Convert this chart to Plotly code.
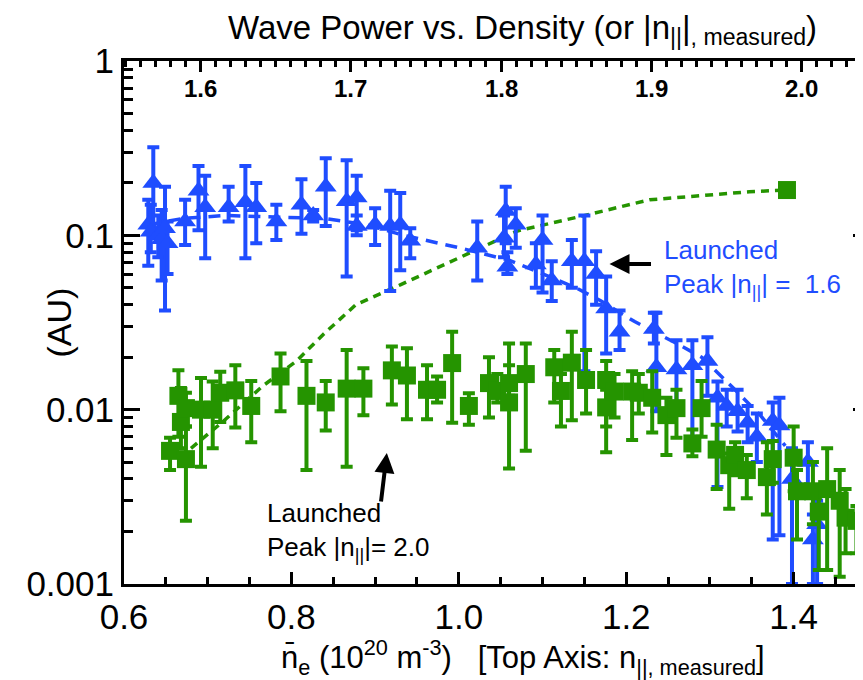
import plotly.graph_objects as go

# ---- Blue (launched peak |n||| = 1.6) data: triangles ----
blue_x = [0.629, 0.632, 0.635, 0.641, 0.645, 0.649, 0.652, 0.673, 0.689, 0.697,
          0.725, 0.745, 0.758, 0.782, 0.812, 0.826, 0.841, 0.866, 0.878, 0.878,
          0.900, 0.918, 0.930, 0.942, 1.022, 1.054, 1.056, 1.058, 1.068, 1.092,
          1.100, 1.111, 1.135, 1.150, 1.164, 1.176, 1.192, 1.233, 1.236, 1.260,
          1.279, 1.297, 1.309, 1.320, 1.333, 1.345, 1.356, 1.375, 1.383, 1.398,
          1.417, 1.423, 1.428]
blue_y = [0.115, 0.105, 0.200, 0.100, 0.095, 0.110, 0.090, 0.120, 0.180, 0.145,
          0.145, 0.155, 0.145, 0.120, 0.150, 0.130, 0.190, 0.157, 0.165, 0.113,
          0.115, 0.113, 0.115, 0.093, 0.085, 0.097, 0.138, 0.066, 0.115, 0.068,
          0.094, 0.055, 0.071, 0.071, 0.060, 0.038, 0.028, 0.029, 0.0175, 0.017,
          0.018, 0.019, 0.0117, 0.0105, 0.0098, 0.0084, 0.0070, 0.0086, 0.0081, 0.0040,
          0.0050, 0.0018, 0.0022]
blue_hi = [0.160, 0.150, 0.320, 0.130, 0.140, 0.190, 0.120, 0.160, 0.250, 0.220,
           0.190, 0.250, 0.200, 0.150, 0.210, 0.140, 0.277, 0.270, 0.220, 0.130,
           0.143, 0.180, 0.175, 0.110, 0.120, 0.130, 0.190, 0.080, 0.143, 0.090,
           0.130, 0.071, 0.094, 0.130, 0.081, 0.058, 0.037, 0.036, 0.036, 0.025,
           0.025, 0.026, 0.0145, 0.013, 0.013, 0.0105, 0.0095, 0.011, 0.0117, 0.006,
           0.0065, 0.0025, 0.003]
blue_lo = [0.067, 0.080, 0.110, 0.075, 0.055, 0.037, 0.060, 0.088, 0.107, 0.074,
           0.120, 0.074, 0.090, 0.094, 0.102, 0.120, 0.113, 0.058, 0.107, 0.100,
           0.088, 0.048, 0.063, 0.074, 0.055, 0.075, 0.090, 0.060, 0.085, 0.050,
           0.047, 0.042, 0.050, 0.0166, 0.040, 0.021, 0.022, 0.024, 0.0098, 0.011,
           0.006, 0.012, 0.0036, 0.008, 0.0075, 0.0065, 0.005, 0.0018, 0.0019, 0.001,
           0.0035, 0.001, 0.001]

# Blue trend (dashed)
blue_line_x = [0.63, 0.67, 0.72, 0.78, 0.84, 0.89, 0.934, 1.00, 1.03, 1.06, 1.09,
               1.14, 1.17, 1.21, 1.26, 1.29, 1.33, 1.36, 1.39]
blue_line_y = [0.115, 0.125, 0.130, 0.128, 0.125, 0.115, 0.100, 0.085, 0.078, 0.072,
               0.063, 0.050, 0.042, 0.032, 0.024, 0.020, 0.013, 0.0093, 0.0062]

# ---- Green (launched peak |n||| = 2.0) data: squares ----
green_x = [0.655, 0.665, 0.668, 0.674, 0.674, 0.692, 0.706, 0.715, 0.733, 0.752,
           0.787, 0.818, 0.841, 0.866, 0.886, 0.920, 0.938, 0.962, 0.974, 0.992,
           1.012, 1.036, 1.046, 1.060, 1.060, 1.080, 1.114, 1.122, 1.135, 1.152,
           1.176, 1.176, 1.186, 1.207, 1.215, 1.231, 1.248, 1.260, 1.279, 1.290,
           1.308, 1.323, 1.330, 1.344, 1.368, 1.375, 1.400, 1.404, 1.423, 1.430,
           1.440, 1.455, 1.462, 1.475, 1.487]
green_y = [0.0058, 0.0120, 0.0085, 0.0052, 0.0102, 0.0100, 0.0100, 0.0125, 0.0129, 0.0105,
           0.0155, 0.0120, 0.0110, 0.0132, 0.0132, 0.0168, 0.0157, 0.0130, 0.0130, 0.0185,
           0.0105, 0.0142, 0.0128, 0.0110, 0.0142, 0.0160, 0.0175, 0.0128, 0.0186, 0.0148,
           0.0148, 0.0103, 0.0127, 0.0127, 0.0125, 0.0117, 0.0093, 0.0102, 0.0064, 0.0102,
           0.0059, 0.0048, 0.0055, 0.0045, 0.0041, 0.0052, 0.0053, 0.0034, 0.0034, 0.0026,
           0.0035, 0.0030, 0.0024, 0.0023, 0.0018]
green_hi = [0.0069, 0.0168, 0.0133, 0.0080, 0.0125, 0.0152, 0.0145, 0.0165, 0.0180, 0.0146,
            0.0210, 0.0190, 0.0146, 0.0220, 0.0173, 0.0230, 0.0225, 0.0180, 0.0155, 0.0280,
            0.0124, 0.0200, 0.0160, 0.0240, 0.0180, 0.0240, 0.0220, 0.0160, 0.0280, 0.0220,
            0.0190, 0.0130, 0.0160, 0.0166, 0.0160, 0.0166, 0.0117, 0.0130, 0.0077, 0.0146,
            0.0082, 0.0056, 0.0065, 0.0055, 0.0065, 0.0066, 0.0080, 0.0045, 0.0050, 0.0033,
            0.0060, 0.0045, 0.0035, 0.0028, 0.0025]
green_lo = [0.0045, 0.0070, 0.0060, 0.0023, 0.0080, 0.0047, 0.0060, 0.0085, 0.0079, 0.0065,
            0.0098, 0.0045, 0.0076, 0.0047, 0.0093, 0.0107, 0.0088, 0.0088, 0.0110, 0.0084,
            0.0082, 0.0090, 0.0110, 0.0046, 0.0120, 0.0058, 0.0110, 0.0080, 0.0087, 0.0095,
            0.0057, 0.0080, 0.0090, 0.0067, 0.0095, 0.0074, 0.0055, 0.0069, 0.0054, 0.0070,
            0.0035, 0.0027, 0.0042, 0.0031, 0.0025, 0.0038, 0.0034, 0.0018, 0.0022, 0.0012,
            0.0012, 0.0011, 0.0015, 0.0015, 0.0011]

# Green trend (dashed), ends with a square
green_line_x = [0.68, 0.695, 0.719, 0.766, 0.806, 0.838, 0.877, 0.93, 0.98, 1.07,
                1.147, 1.228, 1.347, 1.392]
green_line_y = [0.0060, 0.0069, 0.0086, 0.0137, 0.019, 0.027, 0.040, 0.052, 0.067, 0.106,
                0.129, 0.160, 0.178, 0.182]

top_ticks = [1.6, 1.7, 1.8, 1.9, 2.0]
top_ticktext = ["1.6", "1.7", "1.8", "1.9", "2.0"]

# minor tick positions (axis furniture, drawn by overlay axes)
bottom_minor = [round(0.6 + 0.05 * i, 3) for i in range(18) if i % 4 != 0]
top_minor = [round(1.55 + 0.01 * i, 3) for i in range(50) if (i + 5) % 10 != 0]
y_minor = [m * 10.0 ** e for e in (-3, -2, -1) for m in range(2, 10)]

X_RANGE = [0.6, 1.49]
TOP_RANGE = [1.549, 2.045]
Y_RANGE = [-3.0005, 0.0005]

BLUE = "#1f4dff"
GREEN = "#259400"
FONT = "Liberation Sans, Arial, Helvetica, sans-serif"

def err(y, hi, lo):
    return [h - v for v, h in zip(y, hi)], [v - l for v, l in zip(y, lo)]

fig = go.Figure()

fig.add_trace(go.Scatter(x=blue_line_x, y=blue_line_y, mode="lines",
                         line=dict(color=BLUE, width=3.5, dash="12px,8px"),
                         hoverinfo="skip", showlegend=False))
fig.add_trace(go.Scatter(x=green_line_x, y=green_line_y, mode="lines",
                         line=dict(color=GREEN, width=3.5, dash="8px,6px"),
                         hoverinfo="skip", showlegend=False))
fig.add_trace(go.Scatter(x=[green_line_x[-1]], y=[green_line_y[-1]], mode="markers",
                         marker=dict(symbol="square", size=18, color=GREEN),
                         showlegend=False))

bp, bm = err(blue_y, blue_hi, blue_lo)
fig.add_trace(go.Scatter(x=blue_x, y=blue_y, mode="markers",
                         marker=dict(symbol="triangle-up", size=19, color=BLUE),
                         error_y=dict(type="data", array=bp, arrayminus=bm,
                                      color=BLUE, thickness=4, width=6),
                         showlegend=False))
gp, gm = err(green_y, green_hi, green_lo)
fig.add_trace(go.Scatter(x=green_x, y=green_y, mode="markers",
                         marker=dict(symbol="square", size=18, color=GREEN),
                         error_y=dict(type="data", array=gp, arrayminus=gm,
                                      color=GREEN, thickness=4, width=6),
                         showlegend=False))
# fully transparent helper traces that attach the extra axes (nothing visible)
helper = dict(mode="markers", marker=dict(opacity=0, size=1), showlegend=False, hoverinfo="skip")
fig.add_trace(go.Scatter(x=top_ticks, y=blue_y[:len(top_ticks)], xaxis="x2", yaxis="y", **helper))
fig.add_trace(go.Scatter(x=bottom_minor, y=green_y[:len(bottom_minor)], xaxis="x3", yaxis="y2", **helper))
fig.add_trace(go.Scatter(x=top_minor[:10], y=green_y[:10], xaxis="x4", yaxis="y2", **helper))

tick_common = dict(tickcolor="black", showgrid=False, zeroline=False, automargin=False)

fig.update_layout(
    width=863, height=680,
    margin=dict(l=116, r=2, t=53, b=104, autoexpand=False),
    paper_bgcolor="white", plot_bgcolor="white",
    font=dict(family=FONT, color="black"),
    xaxis=dict(range=X_RANGE, tickmode="linear", tick0=0.6, dtick=0.2, tickformat=".1f",
               ticks="inside", ticklen=12, tickwidth=2.5,
               showline=True, linewidth=3, linecolor="black", mirror=False,
               tickfont=dict(size=35, color="black"), **tick_common),
    xaxis2=dict(overlaying="x", side="top", anchor="y", range=TOP_RANGE,
                tickmode="linear", tick0=1.6, dtick=0.1, showticklabels=False,
                ticks="inside", ticklen=11, tickwidth=2.5,
                showline=True, linewidth=3, linecolor="black", **tick_common),
    xaxis3=dict(overlaying="x", side="bottom", anchor="y2", range=X_RANGE,
                tickmode="array", tickvals=bottom_minor, showticklabels=False,
                ticks="inside", ticklen=7, tickwidth=2.5, showline=False, **tick_common),
    xaxis4=dict(overlaying="x", side="top", anchor="y2", range=TOP_RANGE,
                tickmode="array", tickvals=top_minor, showticklabels=False,
                ticks="inside", ticklen=6, tickwidth=2.5, showline=False, **tick_common),
    yaxis=dict(type="log", range=Y_RANGE, tickmode="linear", tick0=0, dtick=1,
               tickformat="~g",
               ticks="inside", ticklen=16, tickwidth=2.5,
               showline=True, linewidth=3, linecolor="black", mirror="ticks",
               tickfont=dict(size=35, color="black"), **tick_common),
    yaxis2=dict(type="log", overlaying="y", side="left", anchor="x3", range=Y_RANGE,
                tickmode="array", tickvals=y_minor, showticklabels=False,
                ticks="inside", ticklen=9, tickwidth=2.5, showline=False, mirror="ticks",
                **tick_common),
    title=dict(text="Wave Power vs. Density (or |n<sub>||</sub>|<sub>, measured</sub>)",
               x=0.535, xref="paper", xanchor="center", y=1 - 19 / 680, yanchor="middle",
               font=dict(size=33, family=FONT, color="black")),
)

# top-axis tick labels, drawn just inside the frame
for v, t in zip(top_ticks, top_ticktext):
    fig.add_annotation(text=t, x=v, xref="x2", y=0.9465, yref="paper",
                       xanchor="center", yanchor="middle", showarrow=False,
                       font=dict(size=24, family=FONT, color="black", weight="bold"))

fig.add_annotation(text="(AU)", xref="paper", yref="paper", x=-0.0885, y=0.5,
                   xanchor="center", yanchor="middle",
                   textangle=-90, showarrow=False, font=dict(size=34, family=FONT, color="black"))
fig.add_annotation(text="n\u0304<sub>e</sub> (10<sup>20</sup> m<sup>-3</sup>)&nbsp;&nbsp;&nbsp;[Top Axis: n<sub>||, measured</sub>]",
                   xref="paper", yref="paper", x=0.535, y=-0.141, yanchor="middle",
                   showarrow=False, font=dict(size=31, family=FONT, color="black"))
fig.add_annotation(text="Launched<br>Peak |n<sub>||</sub>| =  1.6", x=1.243, y=-1.188,
                   xref="x", yref="y",
                   xanchor="left", yanchor="middle", align="left", showarrow=False,
                   font=dict(size=26, family=FONT, color=BLUE))
fig.add_annotation(text="Launched<br>Peak |n<sub>||</sub>|= 2.0", x=0.769, y=-2.697,
                   xref="x", yref="y",
                   xanchor="left", yanchor="middle", align="left", showarrow=False,
                   font=dict(size=26, family=FONT, color="black"))
fig.add_annotation(text="", x=1.18, y=-1.165, xref="x", yref="y", ax=43, ay=0, showarrow=True,
                   arrowhead=2, arrowsize=1, arrowwidth=4, arrowcolor="black")
fig.add_annotation(text="", x=0.914, y=-2.249, xref="x", yref="y", ax=-6, ay=50, showarrow=True,
                   arrowhead=2, arrowsize=1, arrowwidth=4, arrowcolor="black")

fig.write_html("out.html")
